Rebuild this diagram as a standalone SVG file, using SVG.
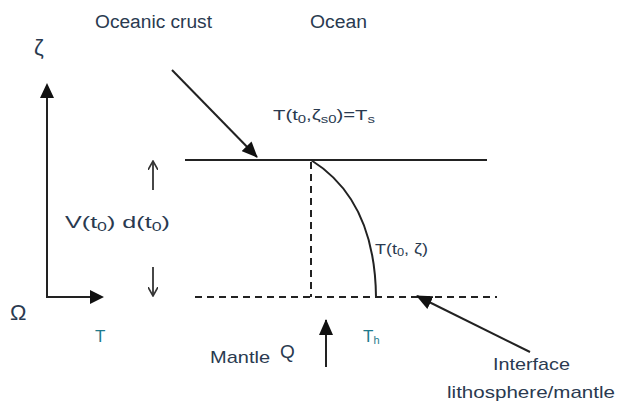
<svg xmlns="http://www.w3.org/2000/svg" width="619" height="405" viewBox="0 0 619 405">
<style>
.t{font-family:"Liberation Sans",Arial,sans-serif;fill:#2a3a50}
.ln{stroke:#222;stroke-width:2;fill:none}
.dash{stroke:#222;stroke-width:2;fill:none;stroke-dasharray:7,5}
.thin{stroke:#333;stroke-width:1.8;fill:none}
</style>
<defs>
<marker id="big" markerWidth="16" markerHeight="14" refX="15" refY="7" orient="auto" markerUnits="userSpaceOnUse">
<path d="M0,0 L16,7 L0,14 Z" fill="#111"/>
</marker>
<marker id="small" markerWidth="10" markerHeight="10" refX="9" refY="5" orient="auto" markerUnits="userSpaceOnUse">
<path d="M0,0 L9,5 L0,10" fill="none" stroke="#333" stroke-width="1.6"/>
</marker>
</defs>
<rect width="619" height="405" fill="#fff"/>
<g id="axes">
<path class="ln" d="M47,98 L47,297 L92,297"/>
<path d="M40,98 L47,83 L54,98 Z M90,290 L104,297 L90,304 Z" fill="#111"/>
</g>
<g id="connectors">
<line class="ln" x1="185" y1="160" x2="487" y2="160"/>
<line class="dash" x1="311" y1="162" x2="311" y2="297"/>
<line class="dash" x1="195" y1="297" x2="497" y2="297"/>
<path class="ln" d="M311,160 Q375,200 376,297"/>
<line class="ln" x1="172" y1="70" x2="257" y2="157" marker-end="url(#big)"/>
<line class="ln" x1="530" y1="352" x2="417" y2="296" marker-end="url(#big)"/>
<line class="thin" x1="153" y1="190" x2="153" y2="161" marker-end="url(#small)"/>
<line class="thin" x1="153" y1="267" x2="153" y2="296" marker-end="url(#small)"/>
<line class="ln" x1="326" y1="367" x2="326" y2="320" marker-end="url(#big)"/>
</g>
<g id="labels">
<text class="t" x="95" y="28" font-size="18" textLength="117" lengthAdjust="spacingAndGlyphs">Oceanic crust</text>
<text class="t" x="310" y="28" font-size="18" textLength="57" lengthAdjust="spacingAndGlyphs">Ocean</text>
<text class="t" x="34" y="55" font-size="22">ζ</text>
<text class="t" x="273" y="120" font-size="15" textLength="102" lengthAdjust="spacingAndGlyphs">T(t<tspan font-size="11" dy="3">0</tspan><tspan dy="-3">,ζ</tspan><tspan font-size="11" dy="3">s0</tspan><tspan dy="-3">)=T</tspan><tspan font-size="11" dy="3">s</tspan></text>
<text class="t" x="65" y="228" font-size="17" textLength="105" lengthAdjust="spacingAndGlyphs">V(t<tspan font-size="12" dy="3">0</tspan><tspan dy="-3">)  d(t</tspan><tspan font-size="12" dy="3">0</tspan><tspan dy="-3">)</tspan></text>
<text class="t" x="375" y="254" font-size="14" textLength="53" lengthAdjust="spacingAndGlyphs">T(t<tspan font-size="10" dy="2">0</tspan><tspan dy="-2">, ζ)</tspan></text>
<text class="t" x="10" y="320" font-size="22">Ω</text>
<text class="t" x="95" y="342" font-size="17" style="fill:#1f7a8c">T</text>
<text class="t" x="210" y="363" font-size="17" textLength="60" lengthAdjust="spacingAndGlyphs">Mantle</text>
<text class="t" x="280" y="358" font-size="19">Q</text>
<text class="t" x="363" y="342" font-size="17" style="fill:#1f7a8c">T<tspan font-size="11" dy="2">h</tspan></text>
<text class="t" x="493" y="370" font-size="17" textLength="77" lengthAdjust="spacingAndGlyphs">Interface</text>
<text class="t" x="447" y="398" font-size="17" textLength="168" lengthAdjust="spacingAndGlyphs">lithosphere/mantle</text>
</g>
</svg>
